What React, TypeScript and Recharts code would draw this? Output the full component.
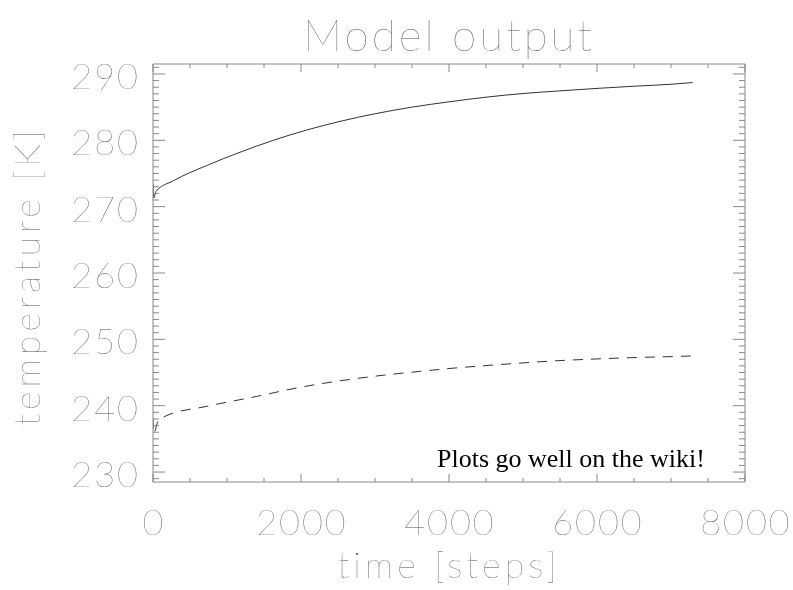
import React from "react";
import { LineChart, Line, XAxis, YAxis } from "recharts";

// ---- data ----
const solidTime = [0, 10, 40, 274, 726, 1176, 1626, 2077, 2527, 3000, 3500, 4000, 4500, 5000, 5500, 6041, 6500, 7000, 7293];
const solidTemp = [273.5, 271.3, 272.3, 273.9, 276.2, 278.2, 280.0, 281.55, 282.85, 284.0, 285.0, 285.8, 286.5, 287.05, 287.45, 287.85, 288.15, 288.45, 288.7];

const dashTime = [0, 8, 72, 162, 726, 1400, 2000, 2527, 3000, 3500, 4000, 4500, 5000, 5500, 6000, 6500, 7000, 7293];
const dashTemp = [238.1, 235.8, 237.8, 238.4, 239.9, 241.4, 242.8, 243.75, 244.45, 245.05, 245.6, 246.05, 246.45, 246.8, 247.05, 247.25, 247.4, 247.5];

const xTicks = [0, 500, 1000, 1500, 2000, 2500, 3000, 3500, 4000, 4500, 5000, 5500, 6000, 6500, 7000, 7500, 8000];
const xMajor = [0, 2000, 4000, 6000, 8000];
const yTicks = [
  229, 230, 231, 232, 233, 234, 235, 236, 237, 238, 239, 240, 241, 242, 243, 244, 245, 246, 247, 248, 249,
  250, 251, 252, 253, 254, 255, 256, 257, 258, 259, 260, 261, 262, 263, 264, 265, 266, 267, 268, 269,
  270, 271, 272, 273, 274, 275, 276, 277, 278, 279, 280, 281, 282, 283, 284, 285, 286, 287, 288, 289,
  290, 291,
];
const yMajor = [230, 240, 250, 260, 270, 280, 290];
const xDomain = [0, 8000];
const yDomain = [228.5, 291.5];

const titleText = "Model output";
const xTitle = "time [steps]";
const yTitle = "temperature [K]";
const noteText = "Plots go well on the wiki!";

const solidData = solidTime.map((t, i) => ({ t, v: solidTemp[i] }));
const dashData = dashTime.map((t, i) => ({ t, v: dashTemp[i] }));

const AXIS = "#888888";
const TEXT = "#4a4a4a";
const FONT = "'Lato', 'Inter', 'DejaVu Sans', sans-serif";
const W = 200;

const BottomTick = (props: any) => {
  const { x, y, payload } = props;
  const major = xMajor.includes(payload.value);
  return (
    <g>
      <line x1={x} y1={y} x2={x} y2={y - (major ? 8 : 4)} stroke={AXIS} strokeWidth={1} />
      {major && (
        <text x={x + 1} y={y + 53} textAnchor="middle" fontFamily={FONT} fontWeight={W} fontSize={36} letterSpacing={2} fill={TEXT}>
          {payload.value}
        </text>
      )}
    </g>
  );
};

const TopTick = (props: any) => {
  const { x, y, payload } = props;
  const major = xMajor.includes(payload.value);
  return <line x1={x} y1={y} x2={x} y2={y + (major ? 8 : 4)} stroke={AXIS} strokeWidth={1} />;
};

const LeftTick = (props: any) => {
  const { x, y, payload } = props;
  const major = yMajor.includes(payload.value);
  return (
    <g>
      <line x1={x} y1={y} x2={x + (major ? 12 : 6)} y2={y} stroke={AXIS} strokeWidth={1} />
      {major && (
        <text x={x - 13} y={y + 15} textAnchor="end" fontFamily={FONT} fontWeight={W} fontSize={36} letterSpacing={2} fill={TEXT}>
          {payload.value}
        </text>
      )}
    </g>
  );
};

const RightTick = (props: any) => {
  const { x, y, payload } = props;
  const major = yMajor.includes(payload.value);
  return <line x1={x} y1={y} x2={x - (major ? 12 : 6)} y2={y} stroke={AXIS} strokeWidth={1} />;
};

export default function App() {
  return (
    <div style={{ position: "absolute", left: 0, top: 0, width: 793, height: 590, background: "#fff", filter: "grayscale(1)" }}>
      <LineChart width={793} height={590} margin={{ top: 54, right: 38, bottom: 48, left: 93 }}>
        <XAxis
          xAxisId="b"
          type="number"
          dataKey="t"
          orientation="bottom"
          domain={xDomain}
          ticks={xTicks}
          interval={0}
          allowDataOverflow
          height={60}
          stroke={AXIS}
          tickLine={false}
          tickSize={0}
          tickMargin={0}
          tick={BottomTick}
        />
        <XAxis
          xAxisId="t"
          type="number"
          dataKey="t"
          orientation="top"
          domain={xDomain}
          ticks={xTicks}
          interval={0}
          allowDataOverflow
          height={10}
          stroke={AXIS}
          tickLine={false}
          tickSize={0}
          tickMargin={0}
          tick={TopTick}
        />
        <YAxis
          yAxisId="l"
          type="number"
          orientation="left"
          domain={yDomain}
          ticks={yTicks}
          interval={0}
          allowDataOverflow
          width={60}
          stroke={AXIS}
          tickLine={false}
          tickSize={0}
          tickMargin={0}
          tick={LeftTick}
        />
        <YAxis
          yAxisId="r"
          type="number"
          orientation="right"
          domain={yDomain}
          ticks={yTicks}
          interval={0}
          allowDataOverflow
          width={10}
          stroke={AXIS}
          tickLine={false}
          tickSize={0}
          tickMargin={0}
          tick={RightTick}
        />
        <Line
          xAxisId="b"
          yAxisId="l"
          data={solidData}
          dataKey="v"
          type="monotoneX"
          stroke="#333"
          strokeWidth={1}
          dot={false}
          isAnimationActive={false}
        />
        <Line
          xAxisId="b"
          yAxisId="l"
          data={dashData}
          dataKey="v"
          type="monotoneX"
          stroke="#333"
          strokeWidth={1}
          strokeDasharray="10 8"
          dot={false}
          isAnimationActive={false}
        />
      </LineChart>
      <svg
        width={793}
        height={590}
        style={{ position: "absolute", left: 0, top: 0, pointerEvents: "none" }}
      >
        <text x={449} y={51} textAnchor="middle" fontFamily={FONT} fontWeight={W} fontSize={44} letterSpacing={3} fill={TEXT}>
          {titleText}
        </text>
        <text x={449} y={578} textAnchor="middle" fontFamily={FONT} fontWeight={W} fontSize={36} letterSpacing={4} fill={TEXT}>
          {xTitle}
        </text>
        <text
          transform="translate(40,276) rotate(-90)"
          textAnchor="middle"
          fontFamily={FONT}
          fontWeight={W}
          fontSize={36}
          letterSpacing={4}
          fill={TEXT}
        >
          {yTitle}
        </text>
        <text x={437} y={467} fontFamily="'Liberation Serif', 'Times New Roman', serif" fontSize={26} fill="#000">
          {noteText}
        </text>
      </svg>
    </div>
  );
}
